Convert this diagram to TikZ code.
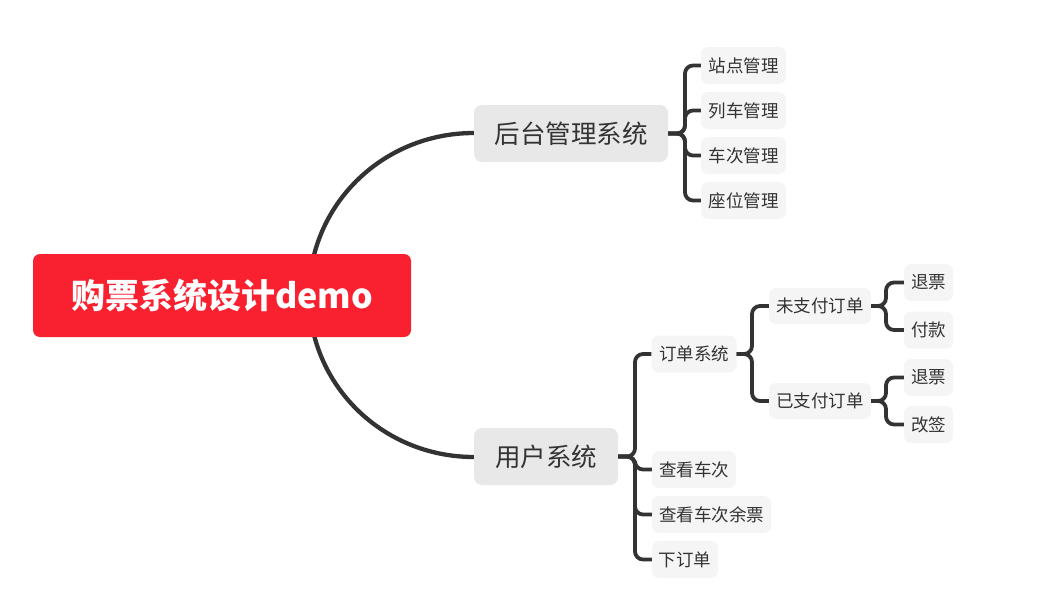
\documentclass[tikz,border=0pt]{standalone}
\usepackage{fontspec}
\setmainfont{Noto Sans CJK SC}
\begin{document}
\definecolor{rootred}{RGB}{249,32,48}
\definecolor{maingray}{RGB}{232,232,232}
\definecolor{leafgray}{RGB}{245,245,245}
\definecolor{linec}{RGB}{51,51,51}
\definecolor{textc}{RGB}{51,51,51}
\begin{tikzpicture}[x=1pt,y=-1pt,
  rootbox/.style={fill=rootred,rounded corners=7pt,text=white,font=\fontsize{34}{40}\selectfont\bfseries,inner sep=0pt,minimum height=83pt},
  mainbox/.style={fill=maingray,rounded corners=8pt,text=textc,font=\fontsize{25.5}{30}\selectfont,inner sep=0pt,minimum height=57pt},
  leafbox/.style={fill=leafgray,rounded corners=7pt,text=textc,font=\fontsize{17.5}{20}\selectfont,inner sep=0pt,minimum height=37pt},
  mainline/.style={draw=linec,line width=4.3pt},
  brk/.style={draw=linec,line width=3.8pt,rounded corners=8pt}]
\useasboundingbox (0,0) rectangle (1037,608);

% main curves (drawn first, behind nodes)
\draw[mainline] (309,295) .. controls (309,205.5) and (382,133) .. (474,133);
\draw[mainline] (309,295) .. controls (309,384.5) and (382,457) .. (474,457);

\node[rootbox,minimum width=378pt] (root) at (222,295.5) {购票系统设计demo};
\node[mainbox,minimum width=194pt] (admin) at (571,133.5) {后台管理系统};
\node[mainbox,minimum width=144pt] (user) at (546,456.5) {用户系统};

\node[leafbox,minimum width=85pt] (a1) at (743.5,65.5) {站点管理};
\node[leafbox,minimum width=85pt] (a2) at (743.5,110.5) {列车管理};
\node[leafbox,minimum width=85pt] (a3) at (743.5,155.5) {车次管理};
\node[leafbox,minimum width=85pt] (a4) at (743.5,200.5) {座位管理};

\node[leafbox,minimum width=85pt] (u1) at (694,354) {订单系统};
\node[leafbox,minimum width=84pt] (u2) at (694,469.5) {查看车次};
\node[leafbox,minimum width=119pt] (u3) at (711.5,514.5) {查看车次余票};
\node[leafbox,minimum width=66pt] (u4) at (685,559.5) {下订单};

\node[leafbox,minimum width=102pt,minimum height=36pt] (o1) at (820,306) {未支付订单};
\node[leafbox,minimum width=102pt,minimum height=36pt] (o2) at (820,401) {已支付订单};

\node[leafbox,minimum width=49pt] (p1) at (928.5,282.5) {退票};
\node[leafbox,minimum width=49pt] (p2) at (928.5,330) {付款};
\node[leafbox,minimum width=49pt] (q1) at (928.5,377.5) {退票};
\node[leafbox,minimum width=49pt] (q2) at (928.5,424.5) {改签};

% brackets
\foreach \c in {a1,a2,a3,a4}
  \draw[brk] (admin.east) -- (685,133.5) |- (\c.west);
\foreach \c in {u1,u2,u3,u4}
  \draw[brk] (user.east) -- (635,456.5) |- (\c.west);
\foreach \c in {o1,o2}
  \draw[brk] (u1.east) -- (752,354) |- (\c.west);
\foreach \c in {p1,p2}
  \draw[brk] (o1.east) -- (886,306) |- (\c.west);
\foreach \c in {q1,q2}
  \draw[brk] (o2.east) -- (886,401) |- (\c.west);
\end{tikzpicture}
\end{document}
